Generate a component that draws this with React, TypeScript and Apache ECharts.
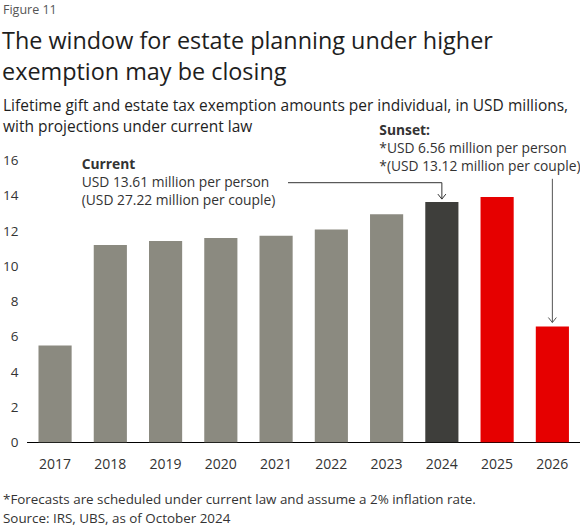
import React, { useEffect, useRef } from "react";
import * as echarts from "echarts";

const years = ["2017", "2018", "2019", "2020", "2021", "2022", "2023", "2024", "2025", "2026"];
const exemption = [5.49, 11.18, 11.4, 11.58, 11.7, 12.06, 12.92, 13.61, 13.9, 6.56];
const barKinds = ["past", "past", "past", "past", "past", "past", "past", "current", "forecast", "forecast"];
const yMin = 0;
const yMax = 16;
const yStep = 2;

const figureLabel = "Figure 11";
const titleLines = ["The window for estate planning under higher", "exemption may be closing"];
const subtitleLines = [
  "Lifetime gift and estate tax exemption amounts per individual, in USD millions,",
  "with projections under current law",
];
const currentNote = ["Current", "USD 13.61 million per person", "(USD 27.22 million per couple)"];
const sunsetNote = ["Sunset:", "*USD 6.56 million per person", "*(USD 13.12 million per couple)"];
const footnotes = [
  "*Forecasts are scheduled under current law and assume a 2% inflation rate.",
  "Source: IRS, UBS, as of October 2024",
];
const currentIndex = 7;
const sunsetIndex = 9;

const FONT = "'Open Sans', 'Noto Sans', sans-serif";
const kindColor: Record<string, string> = {
  past: "#8b8a80",
  current: "#3e3e3b",
  forecast: "#e60000",
};

// font size that makes a text line span the given width (reference layout)
function fitSize(text: string, target: number, weight = "normal") {
  const ctx = document.createElement("canvas").getContext("2d")!;
  ctx.font = `${weight} 100px 'Open Sans'`;
  const w = ctx.measureText(text).width;
  return Math.round((1000 * target) / w) / 10;
}

function txt(text: string, x: number, y: number, size: number, fill: string, weight = "normal") {
  return {
    type: "text",
    x,
    y,
    silent: true,
    style: {
      text,
      fill,
      fontSize: size,
      fontFamily: FONT,
      fontWeight: weight,
      align: "left",
      verticalAlign: "middle",
    },
  };
}

function chevron(x: number, tip: number, color: string) {
  return {
    type: "polyline",
    silent: true,
    shape: { points: [[x - 4, tip - 5], [x, tip], [x + 4, tip - 5]] },
    style: { stroke: color, lineWidth: 1, fill: "none" },
  };
}

export default function App() {
  const ref = useRef<HTMLDivElement>(null);
  useEffect(() => {
    document.body.style.margin = "0";
    const chart = echarts.init(ref.current!, null, { renderer: "svg" });
    chart.setOption({
      animation: false,
      backgroundColor: "#ffffff",
      grid: { left: 27.4, right: 0, top: 159.9, bottom: 85.7, containLabel: false },
      xAxis: {
        type: "category",
        data: years,
        axisLine: { show: true, lineStyle: { color: "#000000", width: 1 } },
        axisTick: { show: false },
        axisLabel: { color: "#333333", fontSize: 14, fontFamily: FONT, margin: 14 },
      },
      yAxis: {
        type: "value",
        min: yMin,
        max: yMax,
        interval: yStep,
        axisLine: { show: false },
        axisTick: { show: false },
        splitLine: { show: false },
        axisLabel: { color: "#333333", fontSize: 13.5, fontFamily: FONT, margin: 9 },
      },
      series: [
        {
          type: "bar",
          barWidth: "60%",
          data: exemption.map((v, i) => ({ value: v, itemStyle: { color: kindColor[barKinds[i]] } })),
        },
      ],
    });

    const cur = chart.convertToPixel({ seriesIndex: 0 }, [currentIndex, exemption[currentIndex]]) as number[];
    const sun = chart.convertToPixel({ seriesIndex: 0 }, [sunsetIndex, exemption[sunsetIndex]]) as number[];
    const curTip = cur[1] - 3;
    const sunTip = sun[1] - 4;

    const figSize = fitSize(figureLabel, 53.7);
    const titleSize = fitSize(titleLines[0], 492);
    const subSize = fitSize(subtitleLines[0], 563.7);
    const noteSize = Math.min(fitSize(currentNote[2], 193.3), 14);
    const footSize = fitSize(footnotes[0], 472.7);
    const noteGap = 17.9;

    const elements: any[] = [];
    elements.push(txt(figureLabel, 3, 9.5, figSize, "#555555"));
    titleLines.forEach((t, i) => elements.push(txt(t, 2, 39.5 + i * 31, titleSize, "#1e1e1e")));
    subtitleLines.forEach((t, i) => elements.push(txt(t, 3, 104.8 + i * 21.2, subSize, "#1e1e1e")));
    currentNote.forEach((t, i) =>
      elements.push(txt(t, 81.7, 163.6 + i * noteGap, noteSize, "#333333", i === 0 ? "bold" : "normal"))
    );
    sunsetNote.forEach((t, i) =>
      elements.push(txt(t, 379.3, 129.6 + i * noteGap, noteSize, "#333333", i === 0 ? "bold" : "normal"))
    );
    footnotes.forEach((t, i) => elements.push(txt(t, 3, 499.3 + i * 19, footSize, "#333333")));

    elements.push({
      type: "polyline",
      silent: true,
      shape: { points: [[288, 182.7], [cur[0], 182.7], [cur[0], curTip]] },
      style: { stroke: "#333333", lineWidth: 1, fill: "none" },
    });
    elements.push(chevron(cur[0], curTip, "#333333"));
    elements.push({
      type: "line",
      silent: true,
      shape: { x1: sun[0], y1: 178.8, x2: sun[0], y2: sunTip },
      style: { stroke: "#555555", lineWidth: 1 },
    });
    elements.push(chevron(sun[0], sunTip, "#555555"));

    chart.setOption({ graphic: { elements } });
    return () => chart.dispose();
  }, []);
  return <div ref={ref} style={{ width: 580, height: 528 }} />;
}
